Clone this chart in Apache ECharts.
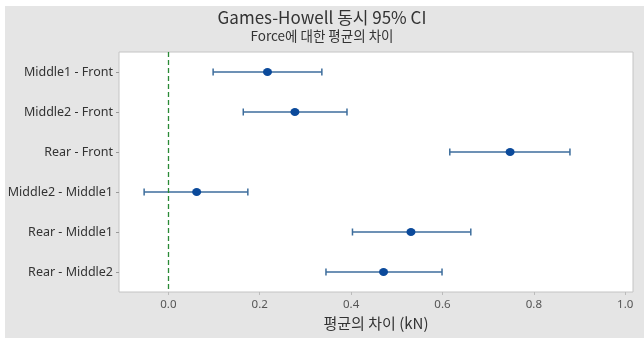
<!DOCTYPE html>
<html>
<head>
<meta charset="utf-8">
<script src="https://cdn.jsdelivr.net/npm/echarts@6/dist/echarts.min.js"></script>
<style>
  html, body { margin: 0; padding: 0; background: #ffffff; }
  #chart { width: 644px; height: 338px; }
</style>
</head>
<body>
<div id="chart"></div>
<script>
// Pairwise comparisons (Games-Howell simultaneous 95% CI)
const comparisons = ['Middle1 - Front', 'Middle2 - Front', 'Rear - Front', 'Middle2 - Middle1', 'Rear - Middle1', 'Rear - Middle2'];
const meanDiff = [0.217, 0.277, 0.748, 0.062, 0.531, 0.471];
const lowerCI  = [0.098, 0.164, 0.616, -0.053, 0.403, 0.345];
const upperCI  = [0.336, 0.391, 0.879, 0.174, 0.662, 0.599];
const xTicks = [0, 0.2, 0.4, 0.6, 0.8, 1.0];

const cjkFont = '"Noto Sans CJK KR", "Noto Sans", sans-serif';
const latinFont = '"Noto Sans", "Noto Sans CJK KR", sans-serif';

const intervalData = comparisons.map((c, i) => [i, lowerCI[i], upperCI[i]]);
const meanData = comparisons.map((c, i) => [meanDiff[i], i]);

const chart = echarts.init(document.getElementById('chart'), null, { renderer: 'canvas' });

chart.setOption({
  backgroundColor: '#ffffff',
  animation: false,
  graphic: [{
    type: 'rect',
    left: 5, top: 6,
    shape: { width: 639, height: 332 },
    style: { fill: '#e5e5e5' },
    z: -10
  }],
  title: [{
    text: 'Games-Howell 동시 95% CI',
    left: 'center', top: 4,
    textStyle: { fontFamily: cjkFont, fontSize: 17, fontWeight: 'normal', color: '#333' }
  }, {
    text: 'Force에 대한 평균의 차이',
    left: 'center', top: 24,
    textStyle: { fontFamily: cjkFont, fontSize: 13.5, fontWeight: 'normal', color: '#333' }
  }],
  grid: {
    left: 119, top: 52, right: 11, bottom: 46,
    show: true, backgroundColor: '#ffffff', borderColor: '#c4c4c4', borderWidth: 1
  },
  xAxis: {
    type: 'value',
    min: -0.108, max: 1.017,
    name: '평균의 차이 (kN)',
    nameLocation: 'middle', nameGap: 23,
    nameTextStyle: { fontFamily: cjkFont, fontSize: 15, color: '#333' },
    axisLine: { show: false, onZero: false },
    splitLine: { show: false },
    axisTick: { show: true, length: 3, lineStyle: { color: '#bbb' }, customValues: xTicks },
    axisLabel: {
      customValues: xTicks,
      formatter: v => v.toFixed(1),
      fontFamily: latinFont, fontSize: 11.5, color: '#555', margin: 7
    }
  },
  yAxis: {
    type: 'category',
    data: comparisons,
    inverse: true,
    axisLine: { show: false, onZero: false },
    axisTick: { show: true, length: 3, alignWithLabel: true, lineStyle: { color: '#999' } },
    axisLabel: { fontFamily: latinFont, fontSize: 12.5, color: '#333', margin: 6 },
    splitLine: { show: false }
  },
  series: [{
    type: 'custom',
    name: 'CI',
    data: intervalData,
    dimensions: ['row', 'lower', 'upper'],
    encode: { y: 0, x: [1, 2] },
    renderItem: function (params, api) {
      const row = api.value(0);
      const p1 = api.coord([api.value(1), row]);
      const p2 = api.coord([api.value(2), row]);
      const cap = 3.5;
      const style = { stroke: '#3d6d9c', lineWidth: 1.5 };
      return {
        type: 'group',
        children: [
          { type: 'line', shape: { x1: p1[0], y1: p1[1], x2: p2[0], y2: p2[1] }, style },
          { type: 'line', shape: { x1: p1[0], y1: p1[1] - cap, x2: p1[0], y2: p1[1] + cap }, style },
          { type: 'line', shape: { x1: p2[0], y1: p2[1] - cap, x2: p2[0], y2: p2[1] + cap }, style }
        ]
      };
    },
    z: 2
  }, {
    type: 'scatter',
    name: 'Mean',
    data: meanData,
    symbol: 'circle',
    symbolSize: [9, 8],
    itemStyle: { color: '#0b4a9b', opacity: 1 },
    markLine: {
      silent: true,
      symbol: 'none',
      label: { show: false },
      lineStyle: { color: '#2a8a36', type: [5, 3], width: 1.3, opacity: 1 },
      data: [{ xAxis: 0 }]
    },
    z: 3
  }]
});
</script>
</body>
</html>
